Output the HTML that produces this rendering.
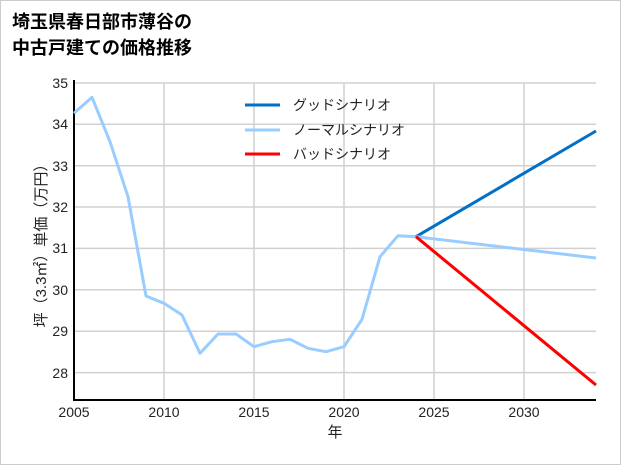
<!DOCTYPE html>
<html><head><meta charset="utf-8"><style>
body{margin:0;background:#fff;}
svg{display:block;font-family:"Liberation Sans","Noto Sans CJK JP",sans-serif;}
</style></head><body>
<svg width="621" height="465" viewBox="0 0 621 465">
<rect x="0.5" y="0.5" width="620" height="464" fill="#fff" stroke="#ccc"/>
<text x="12" y="28" font-size="18" font-weight="bold" fill="#000">埼玉県春日部市薄谷の</text>
<text x="12" y="54" font-size="18" font-weight="bold" fill="#000">中古戸建ての価格推移</text>
<g stroke="#d0d0d0" stroke-width="1.5">
<line x1="164" y1="83" x2="164" y2="400"/><line x1="254" y1="83" x2="254" y2="400"/>
<line x1="344" y1="83" x2="344" y2="400"/><line x1="434" y1="83" x2="434" y2="400"/>
<line x1="524" y1="83" x2="524" y2="400"/>
<line x1="74" y1="83" x2="596" y2="83"/><line x1="74" y1="124.3" x2="596" y2="124.3"/>
<line x1="74" y1="165.7" x2="596" y2="165.7"/><line x1="74" y1="207" x2="596" y2="207"/>
<line x1="74" y1="248.4" x2="596" y2="248.4"/><line x1="74" y1="289.8" x2="596" y2="289.8"/>
<line x1="74" y1="331.2" x2="596" y2="331.2"/><line x1="74" y1="372.6" x2="596" y2="372.6"/>
</g>
<line x1="74" y1="80" x2="74" y2="401" stroke="#000" stroke-width="2"/>
<line x1="73" y1="400" x2="596" y2="400" stroke="#000" stroke-width="2"/>
<g font-size="14" fill="#222" text-anchor="end">
<text x="68" y="88">35</text><text x="68" y="129">34</text><text x="68" y="171">33</text>
<text x="68" y="212">32</text><text x="68" y="253">31</text><text x="68" y="295">30</text>
<text x="68" y="336">29</text><text x="68" y="378">28</text>
</g>
<g font-size="14" fill="#222" text-anchor="middle">
<text x="74" y="417">2005</text><text x="164" y="417">2010</text><text x="254" y="417">2015</text>
<text x="344" y="417">2020</text><text x="434" y="417">2025</text><text x="524" y="417">2030</text>
<text x="335" y="437" font-size="15">年</text>
</g>
<text transform="translate(46,242) rotate(-90)" font-size="15" fill="#222" text-anchor="middle">坪（3.3㎡）単価（万円）</text>
<polyline fill="none" stroke="#99ccff" stroke-width="3" stroke-linejoin="round" points="74,113.3 92,97.3 110,141.7 128,196.7 146,296 164,303.3 182,315 200,353.3 218,334 236,334 254,346.7 272,341.7 290,339.3 308,348.3 326,351.7 344,346.7 362,319.3 380,256.7 398,235.7 416,236.7"/>
<line x1="416" y1="236.7" x2="596" y2="131" stroke="#0070c8" stroke-width="3"/>
<line x1="416" y1="236.7" x2="596" y2="258" stroke="#99ccff" stroke-width="3"/>
<line x1="416" y1="236.7" x2="596" y2="385" stroke="#ff0000" stroke-width="3"/>
<rect x="60" y="80" width="3" height="0" fill="none"/>
<g stroke-width="3">
<line x1="245" y1="105" x2="280" y2="105" stroke="#0070c8"/>
<line x1="245" y1="130" x2="280" y2="130" stroke="#99ccff"/>
<line x1="245" y1="154" x2="280" y2="154" stroke="#ff0000"/>
</g>
<g font-size="14" fill="#222">
<text x="293" y="110">グッドシナリオ</text>
<text x="293" y="135">ノーマルシナリオ</text>
<text x="293" y="159">バッドシナリオ</text>
</g>
</svg>
</body></html>
